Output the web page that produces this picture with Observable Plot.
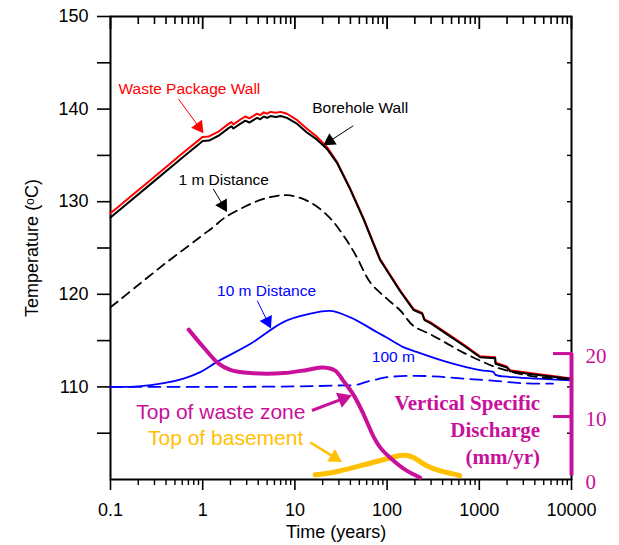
<!DOCTYPE html>
<html><head><meta charset="utf-8">
<script src="https://cdn.jsdelivr.net/npm/d3@7"></script>
<script src="https://cdn.jsdelivr.net/npm/@observablehq/plot@0.6"></script>
<style>body{margin:0;background:#fff}</style>
</head><body><div id="chart"></div>
<script>
// ---- tick values ----
const xTicks = [0.1, 1, 10, 100, 1000, 10000];
const yTicks = [110, 120, 130, 140, 150];
const yMinor = [105, 115, 125, 135, 145];
const qTicks = [0, 10, 20];

// ---- series (time in years, temperature in °C) ----
const wpTime = [0.1,0.3,0.6,1.0,1.17,1.5,1.91,2.05,2.15,2.5,2.9,3.2,3.88,4.2,4.6,5.0,5.43,6.2,7.0,8.2,10.6,13.4,17.4,22.3,28.6,39.9,55.6,71.5,84,108,139,194,240,255,304,443,670,1020,1484,1500,1990,2150,3530,10000];
const wpTemp = [128.75,132.7,135.2,137.0,137.05,137.6,138.4,138.6,138.35,138.8,139.2,139.0,139.5,139.35,139.65,139.5,139.7,139.6,139.7,139.5,138.8,137.9,137.0,135.9,134.3,131.4,128.2,125.5,123.8,122.1,120.4,118.4,118.0,117.3,116.9,115.8,114.6,113.3,113.2,112.6,112.2,111.8,111.5,110.9];
const bhTemp = [128.3,132.25,134.75,136.55,136.6,137.15,137.95,138.15,137.9,138.35,138.75,138.55,139.05,138.9,139.2,139.05,139.25,139.15,139.25,139.05,138.4,137.5,136.7,135.7,134.2,131.3,128.1,125.4,123.7,122.0,120.3,118.3,117.9,117.2,116.8,115.7,114.5,113.2,113.1,112.5,112.1,111.7,111.4,110.85];
const m1Time = [0.1,0.2,0.4,0.74,1.0,1.3,1.69,2.78,4.57,8.2,14.6,24.2,36.6,47,65.5,100,139,192,293,443,670,1020,1540,3530,10000];
const m1Temp = [118.6,121.0,123.4,125.4,126.4,127.25,128.2,129.4,130.3,130.7,129.95,128.2,125.8,124.0,121.3,119.5,118.25,116.6,115.7,114.7,113.7,112.85,112.1,111.2,110.8];
const m10Time = [0.1,0.2,0.378,0.62,0.94,1.43,3.3,7.5,14.7,24.3,40,78,100,150,193,443,1020,1420,1500,2320,10000];
const m10Temp = [110.0,110.05,110.4,110.9,111.6,112.7,114.65,117.0,117.9,118.2,117.5,115.9,115.3,114.3,113.9,112.7,111.8,111.6,111.3,111.05,110.7];
const m100Time = [0.1,1,10,30,45,60,80,100,193,372,670,1300,2900,6300];
const m100Temp = [110.0,110.0,110.05,110.15,110.2,110.55,110.85,111.05,111.2,111.1,110.9,110.7,110.4,110.35];

// ---- vertical specific discharge (mm/yr), right axis ----
const wzTime = [0.705,1.02,1.49,1.99,3.28,7.57,13.5,20.3,27.3,33.4,43.4,55.4,71.3,84,111,163,228];
const wzQ = [23.8,21.0,18.4,17.4,16.9,16.9,17.4,17.8,17.3,15.7,13.4,10.4,6.8,5.1,3.3,1.4,0.3];
const bsTime = [16.6,26.3,51.6,99.7,139,165,193,268,372,520,613];
const bsQ = [0.75,1.16,2.2,3.3,3.8,3.8,3.5,2.2,1.4,0.9,0.6];
const qT = q => 100 + q * 0.68;   // discharge -> temperature axis units

// ---- colours ----
const RED = "#ff0000", BLUE = "#0000ff", MAG = "#c8109a", YEL = "#ffc000";

// ---- annotations (time, temperature) ----
const labels = [
  {text: "Waste Package Wall", t: 0.122, T: 142.2, color: RED, size: 15.5},
  {text: "Borehole Wall", t: 15.4, T: 140.1, color: "black", size: 15.5},
  {text: "1 m Distance", t: 0.546, T: 132.3, color: "black", size: 15.5},
  {text: "10 m Distance", t: 1.43, T: 120.3, color: BLUE, size: 15.5},
  {text: "100 m", t: 68.3, T: 113.2, color: BLUE, size: 15.5},
  {text: "Top of waste zone", t: 0.19, T: 107.3, color: MAG, size: 21},
  {text: "Top of basement", t: 0.255, T: 104.5, color: YEL, size: 21}
];
const arrows = [
  {t1: 0.546, T1: 141.1, t2: 1.018, T2: 137.4, color: RED, w: 1, r: 5},
  {t1: 43.0, T1: 138.2, t2: 20.3, T2: 136.1, color: "black", w: 1, r: 5},
  {t1: 1.3, T1: 131.4, t2: 1.835, T2: 128.9, color: "black", w: 1, r: 5},
  {t1: 3.91, T1: 119.3, t2: 5.5, T2: 116.3, color: BLUE, w: 1, r: 5},
  {t1: 15.3, T1: 107.45, t2: 41.6, T2: 109.1, color: MAG, w: 3, r: 6},
  {t1: 14.7, T1: 104.0, t2: 32.4, T2: 101.9, color: YEL, w: 2.5, r: 5.5}
];

const zip = (ts, vs, f = v => v) => ts.map((t, i) => ({t, v: f(vs[i])}));
const wp = zip(wpTime, wpTemp), bh = zip(wpTime, bhTemp), m1 = zip(m1Time, m1Temp);
const m10 = zip(m10Time, m10Temp), m100 = zip(m100Time, m100Temp);
const wz = zip(wzTime, wzQ, qT), bs = zip(bsTime, bsQ, qT);

const W = 619, H = 545, ML = 110, MR = 48, MT = 16, MB = 66;
const xs = d3.scaleLog().domain([0.1, 10000]).range([ML, W - MR]);
const ys = d3.scaleLinear().domain([100, 150]).range([H - MB, MT]);
const heads = arrows.map(a => {
  const x1 = xs(a.t1), y1 = ys(a.T1), x2 = xs(a.t2), y2 = ys(a.T2);
  const len = Math.hypot(x2 - x1, y2 - y1), ux = (x2 - x1) / len, uy = (y2 - y1) / len;
  const yy = Math.sqrt(a.r * a.r * Math.PI / (Math.sqrt(3) * 3));
  const cx = x2 - 2 * yy * ux, cy = y2 - 2 * yy * uy;
  return {...a, ht: xs.invert(cx), hT: ys.invert(cy), rot: Math.atan2(ux, -uy) * 180 / Math.PI};
});

const xMinor = [];
for (const d of [0.1, 1, 10, 100, 1000]) for (let k = 2; k <= 9; k++) xMinor.push(+(d * k).toPrecision(3));
// inward tick lengths (pixels) converted to the scales
const yTop = 150, xRight = 10000;
const tickEndY = px => ys.invert(ys(yTop) + px);
const tickEndX = px => xs.invert(xs(xRight) - px);

const blank = () => "";
const marks = [
  Plot.frame({stroke: "black", strokeWidth: 2}),
  // left axis
  Plot.axisY({anchor: "left", ticks: yTicks, tickSize: 13, tickPadding: 9, fontSize: 18, strokeWidth: 1.6, label: null, tickFormat: d => String(d)}),
  Plot.axisY({anchor: "left", ticks: yMinor, tickSize: 13, strokeWidth: 1.6, label: null, tickFormat: blank}),
  // bottom axis
  Plot.axisX({anchor: "bottom", ticks: xTicks, tickSize: 11, tickPadding: 13, fontSize: 18, strokeWidth: 1.6, label: null, tickFormat: d => String(d)}),
  Plot.axisX({anchor: "bottom", ticks: xMinor, tickSize: 6, strokeWidth: 1.4, label: null, tickFormat: blank}),
  // top axis (inward ticks)
  Plot.ruleX(xTicks, {x: d => d, y1: yTop, y2: tickEndY(13), stroke: "black", strokeWidth: 1.8}),
  Plot.ruleX(xMinor, {x: d => d, y1: yTop, y2: tickEndY(8), stroke: "black", strokeWidth: 1.6}),
  // right inward ticks
  Plot.ruleY(yMinor.concat(yTicks.slice(0, 4)), {y: d => d, x1: tickEndX(4), x2: xRight, stroke: "black", strokeWidth: 1.4}),
  // axis titles
  Plot.text(["Time (years)"], {x: 28, frameAnchor: "bottom", dy: 58, text: d => d, fontSize: 18, textAnchor: "middle"}),
  Plot.text(["Temperature (ᵒC)"], {y: 125, frameAnchor: "left", dx: -78, rotate: -90, text: d => d, fontSize: 18, textAnchor: "middle"}),
  // curves
  Plot.line(m100, {x: "t", y: "v", stroke: BLUE, strokeWidth: 1.8, strokeDasharray: "12,7", curve: "catmull-rom"}),
  Plot.line(m10, {x: "t", y: "v", stroke: BLUE, strokeWidth: 1.8, curve: "catmull-rom"}),
  Plot.line(m1, {x: "t", y: "v", stroke: "black", strokeWidth: 1.8, strokeDasharray: "9,6", curve: "catmull-rom"}),
  Plot.line(wp, {x: "t", y: "v", stroke: RED, strokeWidth: 2}),
  Plot.line(bh, {x: "t", y: "v", stroke: "black", strokeWidth: 2}),
  Plot.line(bs, {x: "t", y: "v", stroke: YEL, strokeWidth: 5, strokeLinecap: "round", curve: "catmull-rom"}),
  Plot.line(wz, {x: "t", y: "v", stroke: MAG, strokeWidth: 4, strokeLinecap: "round", curve: "catmull-rom"}),
  // right (discharge) axis
  Plot.ruleX([10000], {x: d => d, y1: qT(d3.min(qTicks) + 0.6), y2: qT(d3.max(qTicks)), stroke: MAG, strokeWidth: 4}),
  Plot.axisY({anchor: "right", ticks: qTicks.slice(1).map(qT), tickSize: 19, dx: -19, stroke: MAG, strokeWidth: 3, label: null, tickFormat: blank}),
  Plot.text(qTicks, {y: qT, frameAnchor: "right", dx: 14, dy: 3, text: d => String(d), textAnchor: "start", fill: MAG, fontFamily: "Liberation Serif", fontSize: 21}),
  Plot.text(["Vertical Specific\nDischarge\n(mm/yr)"], {x: 4560, y: 105.5, text: d => d, textAnchor: "end", lineHeight: 1.27, fill: MAG, fontFamily: "Liberation Serif", fontWeight: "bold", fontSize: 21})
];
for (const l of labels) {
  marks.push(Plot.text([l], {x: "t", y: "T", text: "text", fill: l.color, fontSize: l.size, textAnchor: "start"}));
}
for (const h of heads) {
  marks.push(Plot.link([h], {x1: "t1", y1: "T1", x2: "ht", y2: "hT", stroke: h.color, strokeWidth: h.w}));
  marks.push(Plot.dot([h], {x: "ht", y: "hT", symbol: "triangle", r: h.r, fill: h.color, stroke: "none", rotate: "rot"}));
}

const chart = Plot.plot({
  width: W, height: H,
  marginLeft: ML, marginRight: MR, marginTop: MT, marginBottom: MB,
  x: {type: "log", domain: [0.1, 10000]},
  y: {domain: [100, 150]},
  style: {fontFamily: "Liberation Sans, Arial, sans-serif", fontSize: "18px", background: "white", overflow: "visible"},
  marks
});
document.getElementById("chart").append(chart);
</script>
</body></html>
